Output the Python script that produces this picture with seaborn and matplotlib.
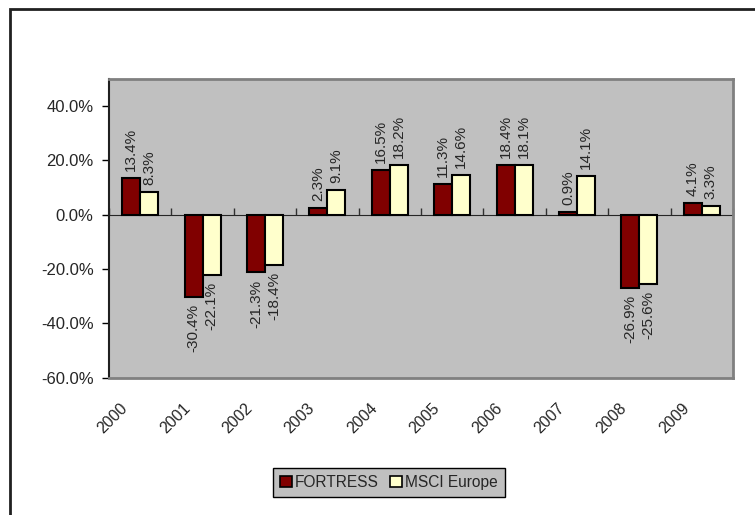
"""Annual returns: FORTRESS vs MSCI Europe, 2000-2009, grouped bar chart."""

import matplotlib

matplotlib.use("Agg")

import matplotlib.pyplot as plt
import numpy as np
import pandas as pd
import seaborn as sns
from matplotlib.patches import Patch, Rectangle
from matplotlib.transforms import ScaledTranslation

# -----------------------------------------------------------------------------
# Data (percent)
# -----------------------------------------------------------------------------
years = ["2000", "2001", "2002", "2003", "2004", "2005", "2006", "2007", "2008", "2009"]
series_names = ["FORTRESS", "MSCI Europe"]
fortress = [13.4, -30.4, -21.3, 2.3, 16.5, 11.3, 18.4, 0.9, -26.9, 4.1]
msci_europe = [8.3, -22.1, -18.4, 9.1, 18.2, 14.6, 18.1, 14.1, -25.6, 3.3]
y_ticks = [-60, -40, -20, 0, 20, 40]

colors = ["#800000", "#FFFFCC"]
plot_bg = "#C0C0C0"


def main() -> None:
    sns.set_style("white")
    plt.rcParams["font.family"] = ["Liberation Sans", "DejaVu Sans"]

    df = pd.DataFrame(
        {
            "year": years * 2,
            "value": fortress + msci_europe,
            "series": [series_names[0]] * len(years) + [series_names[1]] * len(years),
        }
    )

    fig = plt.figure(figsize=(7.55, 5.15), dpi=100)
    ax = fig.add_axes([109 / 755, 1 - 377.7 / 515, 624 / 755, (377.7 - 78.6) / 515])
    ax.set_facecolor(plot_bg)

    sns.barplot(
        data=df,
        x="year",
        y="value",
        hue="series",
        palette=colors,
        saturation=1,
        width=0.58,
        edgecolor="black",
        linewidth=1.5,
        legend=False,
        ax=ax,
    )

    for container, vals in zip(ax.containers, [fortress, msci_europe]):
        ax.bar_label(
            container,
            labels=[f"{v:.1f}%" for v in vals],
            rotation=90,
            padding=5,
            fontsize=11,
        )

    ax.set_xlim(-0.5, len(years) - 0.5)
    ax.set_ylim(-60, 50)
    ax.set_yticks(y_ticks)
    ax.set_yticklabels([f"{t:.1f}%" for t in y_ticks], fontsize=12)
    ax.tick_params(axis="y", direction="out", length=5, width=1, color="black", pad=6, left=True)
    ax.set_xlabel("")
    ax.set_ylabel("")

    # year labels at bottom, rotated like the spreadsheet chart
    ax.tick_params(axis="x", length=0, pad=20)
    offset = ScaledTranslation(-0.15, 0, fig.dpi_scale_trans)
    for lab in ax.get_xticklabels():
        lab.set_rotation(45)
        lab.set_ha("right")
        lab.set_va("center")
        lab.set_rotation_mode("anchor")
        lab.set_fontsize(11.5)
        lab.set_transform(lab.get_transform() + offset)

    for side in ["top", "right", "bottom"]:
        ax.spines[side].set_color("#808080")
        ax.spines[side].set_linewidth(2)
    ax.spines["left"].set_color("#202020")
    ax.spines["left"].set_linewidth(1.5)

    # category axis drawn through zero with boundary ticks
    zero_axis = ax.secondary_xaxis(60 / 110)
    zero_axis.set_xticks(np.arange(-0.5, len(years), 1.0))
    zero_axis.set_xticklabels([])
    zero_axis.tick_params(direction="out", length=5, width=1, color="#303030")
    zero_axis.spines["bottom"].set_color("black")
    zero_axis.spines["bottom"].set_linewidth(1)

    handles = [Patch(facecolor=c, edgecolor="black", linewidth=1.2) for c in colors]
    leg = fig.legend(
        handles,
        series_names,
        loc="center",
        bbox_to_anchor=(389 / 755, 1 - 482.5 / 515),
        ncol=2,
        frameon=True,
        fancybox=False,
        fontsize=11.2,
        handlelength=0.75,
        handleheight=0.75,
        handletextpad=0.2,
        columnspacing=0.7,
        borderpad=0.45,
        borderaxespad=0,
    )
    leg.get_frame().set_facecolor(plot_bg)
    leg.get_frame().set_edgecolor("black")
    leg.get_frame().set_linewidth(1)
    leg.get_frame().set_alpha(1)

    # outer chart border (left and top visible)
    fig.add_artist(
        Rectangle(
            (9.5 / 755, -0.05),
            1.0,
            1.05 - 8.5 / 515,
            transform=fig.transFigure,
            fill=False,
            edgecolor="#202020",
            linewidth=2,
        )
    )

    fig.savefig("out.png", dpi=100)


if __name__ == "__main__":
    main()
